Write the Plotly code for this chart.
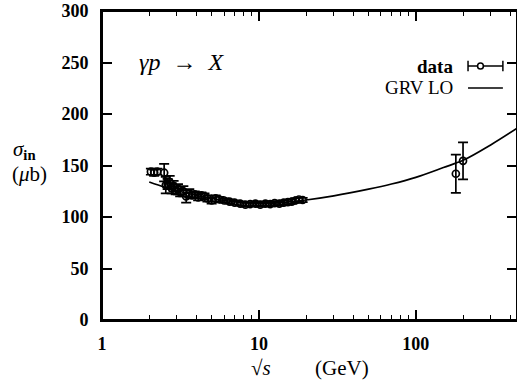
import plotly.graph_objects as go

# ---- data ----
sqrt_s_data = [2.05, 2.15, 2.25, 2.49, 2.55, 2.62, 2.70, 2.78, 2.86, 2.95, 3.05, 3.15, 3.30, 3.44,
               3.60, 3.75, 3.90, 4.10, 4.30, 4.50, 4.70, 5.00, 5.30, 5.60, 6.00, 6.50, 7.00, 7.60,
               8.20, 8.80, 9.50, 10.2, 11.0, 11.8, 12.6, 13.5, 14.4, 15.3, 16.2, 17.1, 18.0, 19.0,
               180.0, 200.0]
sigma_data = [144, 143, 144, 143, 131, 132, 134, 128, 130, 126, 127, 124, 125, 120,
              123, 121, 122, 119, 121, 120, 118, 116, 118, 117, 116, 115, 114, 113,
              112, 112.5, 113, 112, 113, 112.5, 113.5, 113, 114, 114.5, 115, 116, 117, 116.5,
              142, 154.5]
sigma_err = [3, 3, 3, 8.5, 8, 5, 6, 5, 5, 4, 5, 4, 5, 6,
             4, 3, 3, 3, 3, 3, 3, 3, 3, 2.5, 2, 2, 2, 2,
             2, 2, 2, 2, 2, 2, 2, 2, 2, 2, 2, 2, 2, 2,
             18.5, 18]

sqrt_s_grv = [2.0, 2.5, 3, 4, 5, 6, 8, 10, 12, 15, 20, 30, 50, 70, 100, 150, 200, 300, 450]
sigma_grv = [134, 129, 125.5, 121, 118, 116, 114, 113.5, 113.5, 114.5, 116.5, 120.5, 127, 132,
             138.5, 148, 155, 170, 187]

x_ticks = [1, 10, 100]
x_tick_labels = ["1", "10", "100"]
y_ticks = [0, 50, 100, 150, 200, 250, 300]

SERIF = "Liberation Serif, Times New Roman, serif"

fig = go.Figure()
fig.add_trace(go.Scatter(
    x=sqrt_s_grv, y=sigma_grv, mode="lines",
    line=dict(color="black", width=1.7, shape="spline"),
    name="GRV LO", showlegend=False))
fig.add_trace(go.Scatter(
    x=sqrt_s_data, y=sigma_data, mode="markers",
    marker=dict(symbol="circle-open", size=7, color="black", line=dict(width=1.7)),
    error_y=dict(type="data", array=sigma_err, color="black", thickness=1.7, width=5),
    name="data", showlegend=False))

# plot frame
fig.add_shape(type="rect", xref="paper", yref="paper", x0=0, x1=1, y0=0, y1=1,
              line=dict(color="black", width=2), layer="above")

# legend drawn by hand (gnuplot style)
fig.add_annotation(xref="paper", yref="paper", x=0.851, y=0.822, xanchor="right", yanchor="middle",
                   text="<b>data</b>", showarrow=False, font=dict(family=SERIF, size=19, color="black"))
fig.add_annotation(xref="paper", yref="paper", x=0.851, y=0.751, xanchor="right", yanchor="middle",
                   text="GRV LO", showarrow=False, font=dict(family=SERIF, size=19, color="black"))
ly1, ly2 = 0.822, 0.751
x0, x1 = 0.882, 0.966
fig.add_shape(type="line", xref="paper", yref="paper", x0=x0, x1=x1, y0=ly1, y1=ly1,
              line=dict(color="black", width=1.5))
fig.add_shape(type="line", xref="paper", yref="paper", x0=x0, x1=x0, y0=ly1 - 0.017, y1=ly1 + 0.017,
              line=dict(color="black", width=1.5))
fig.add_shape(type="line", xref="paper", yref="paper", x0=x1, x1=x1, y0=ly1 - 0.017, y1=ly1 + 0.017,
              line=dict(color="black", width=1.5))
fig.add_shape(type="circle", xref="paper", yref="paper", x0=0.905, x1=0.919, y0=ly1 - 0.010, y1=ly1 + 0.010,
              line=dict(color="black", width=1.5), fillcolor="white")
fig.add_shape(type="line", xref="paper", yref="paper", x0=x0, x1=x1, y0=ly2, y1=ly2,
              line=dict(color="black", width=1.5))

# process label
fig.add_annotation(xref="paper", yref="paper", x=0.085, y=0.835, xanchor="left", yanchor="middle",
                   text="<i>γp</i>\u2002→\u2002<i>X</i>", showarrow=False,
                   font=dict(family=SERIF, size=24, color="black"))

# axis titles
fig.add_annotation(xref="paper", yref="paper", x=-0.187, y=0.55, xanchor="center", yanchor="middle",
                   text="<i>σ</i><sub><b>in</b></sub>", showarrow=False,
                   font=dict(family=SERIF, size=21, color="black"))
fig.add_annotation(xref="paper", yref="paper", x=-0.175, y=0.474, xanchor="center", yanchor="middle",
                   text="(<i>μ</i>b)", showarrow=False,
                   font=dict(family=SERIF, size=21, color="black"))
fig.add_annotation(xref="paper", yref="paper", x=0.382, y=-0.155, xanchor="center", yanchor="middle",
                   text="√<i>s</i>", showarrow=False,
                   font=dict(family=SERIF, size=21, color="black"))
fig.add_annotation(xref="paper", yref="paper", x=0.578, y=-0.155, xanchor="center", yanchor="middle",
                   text="(GeV)", showarrow=False,
                   font=dict(family=SERIF, size=21, color="black"))

fig.update_xaxes(type="log", range=[0, 2.645], automargin=False,
                 tickvals=x_ticks, ticktext=["<b>%s</b>" % t for t in x_tick_labels],
                 ticks="inside", ticklen=10, tickwidth=1.5, tickcolor="black",
                 minor=dict(ticks="inside", ticklen=5, tickwidth=1.2, tickcolor="black",
                            tickvals=[m * d for d in (1, 10, 100) for m in range(2, 10)]),
                 showline=True, linecolor="black", linewidth=2, mirror="ticks",
                 showgrid=False, zeroline=False, ticklabelstandoff=6,
                 tickfont=dict(family=SERIF, size=18, color="black"))
fig.update_yaxes(range=[0, 300], tickvals=y_ticks, automargin=False,
                 ticktext=["<b>%d</b>" % v for v in y_ticks],
                 ticks="inside", ticklen=10, tickwidth=1.5, tickcolor="black",
                 showline=True, linecolor="black", linewidth=2, mirror="ticks",
                 showgrid=False, zeroline=False, ticklabelstandoff=8,
                 tickfont=dict(family=SERIF, size=18, color="black"))

fig.update_layout(width=517, height=389, margin=dict(l=102, r=0, t=11, b=69),
                  paper_bgcolor="white", plot_bgcolor="white", showlegend=False)

# remove the default 8 px page margin so the figure fills the window
fig.write_html("out.html", config={"displayModeBar": False},
               post_script="document.body.style.margin='0';document.body.style.overflow='hidden';")
